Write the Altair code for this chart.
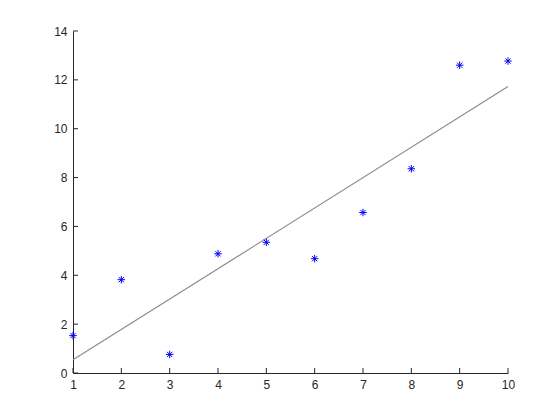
import altair as alt
import pandas as pd

x_vals = [1, 2, 3, 4, 5, 6, 7, 8, 9, 10]
y_vals = [1.53, 3.82, 0.76, 4.88, 5.35, 4.68, 6.57, 8.36, 12.6, 12.77]
x_ticks = [1, 2, 3, 4, 5, 6, 7, 8, 9, 10]
y_ticks = [0, 2, 4, 6, 8, 10, 12, 14]

df = pd.DataFrame({"x": x_vals, "y": y_vals})
W, H = 435, 342

xs = alt.Scale(domain=[1, 10], nice=False, zero=False)
ys = alt.Scale(domain=[0, 14], nice=False)

axis_common = dict(
    domainColor="#262626", tickColor="#262626", labelColor="#262626",
    labelFont="Liberation Sans", labelFontSize=12, grid=False, ticks=False,
    labelPadding=6, title=None, labelFlush=False, labelOverlap=False,
)

base = alt.Chart(df)

star = "M-1,0L1,0M0,-1L0,1M-0.7,-0.7L0.7,0.7M-0.7,0.7L0.7,-0.7"

points = base.mark_point(shape=star, size=56, color="#0000FF", strokeWidth=1, opacity=1).encode(
    x=alt.X("x:Q", scale=xs, axis=alt.Axis(values=x_ticks, **axis_common)),
    y=alt.Y("y:Q", scale=ys, axis=alt.Axis(values=y_ticks, **axis_common)),
)

fit = base.transform_regression("x", "y", extent=[1, 10]).mark_line(
    color="#8c8c8c", strokeWidth=1.2
).encode(x=alt.X("x:Q", scale=xs), y=alt.Y("y:Q", scale=ys))

xt = alt.Chart(pd.DataFrame({"t": x_ticks})).mark_rule(color="#262626", strokeWidth=1).encode(
    x=alt.X("t:Q", scale=xs), y=alt.value(H), y2=alt.value(H - 5)
)
yt = alt.Chart(pd.DataFrame({"t": y_ticks})).mark_rule(color="#262626", strokeWidth=1).encode(
    y=alt.Y("t:Q", scale=ys), x=alt.value(0), x2=alt.value(5)
)

chart = alt.layer(fit, points, xt, yt).properties(
    width=W, height=H,
    autosize=alt.AutoSizeParams(type="none"),
    padding={"left": 65, "top": 23, "right": 44, "bottom": 39},
).configure_view(stroke=None).configure_axis(domainWidth=1)

chart.save("out.html", embed_options={"renderer": "svg", "actions": False})
